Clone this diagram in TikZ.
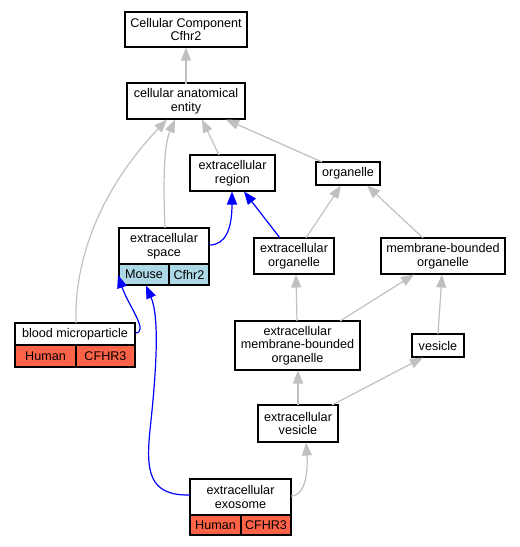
\documentclass[tikz,border=0pt]{standalone}
\usepackage{fontspec}
\setmainfont{Liberation Sans}
\usetikzlibrary{arrows.meta}
\definecolor{edgegray}{HTML}{C0C0C0}
\definecolor{mouseblue}{HTML}{ADD8E6}
\definecolor{humanred}{HTML}{FF6347}
\begin{document}
\begin{tikzpicture}[x=1pt,y=-1pt,
  box/.style={draw=black,line width=1.1pt,fill=white,align=center,inner sep=0pt,
    font=\fontsize{12.6}{13.6}\selectfont},
  gedge/.style={draw=edgegray,line width=1.2pt,-{Triangle[length=13pt,width=10pt]}},
  bedge/.style={draw=blue,line width=1.2pt,-{Triangle[length=13pt,width=10pt]}}]
\useasboundingbox (0,0) rectangle (520,547);
% nodes
\node[box,minimum width=122pt,minimum height=35pt] (cc) at (186,29.5) {Cellular Component\\Cfhr2};
\node[box,minimum width=118pt,minimum height=36pt] (cae) at (186,101) {cellular anatomical\\entity};
\node[box,minimum width=85pt,minimum height=36pt] (er) at (232.5,173) {extracellular\\region};
\node[box,minimum width=64pt,minimum height=23pt] (org) at (348,173.5) {organelle};
\node[box,minimum width=90pt,minimum height=36pt] (es) at (164,246) {extracellular\\space};
\node[box,fill=mouseblue,minimum width=50pt,minimum height=21pt] (esm) at (144,274.5) {Mouse};
\node[box,fill=mouseblue,minimum width=40pt,minimum height=21pt] (esc) at (189,274.5) {Cfhr2};
\node[box,minimum width=80pt,minimum height=36pt] (eo) at (294,256) {extracellular\\organelle};
\node[box,minimum width=124pt,minimum height=36pt] (mbo) at (443,256) {membrane-bounded\\organelle};
\node[box,minimum width=120pt,minimum height=22pt] (bm) at (75,334) {blood microparticle};
\node[box,fill=humanred,minimum width=61pt,minimum height=22pt] (bmh) at (45.5,356) {Human};
\node[box,fill=humanred,minimum width=59pt,minimum height=22pt] (bmc) at (105.5,356) {CFHR3};
\node[box,minimum width=125pt,minimum height=49pt] (embo) at (297.5,345.5) {extracellular\\membrane-bounded\\organelle};
\node[box,minimum width=52pt,minimum height=23pt] (ves) at (438,345.5) {vesicle};
\node[box,minimum width=80pt,minimum height=37pt] (ev) at (298,423.5) {extracellular\\vesicle};
\node[box,minimum width=101pt,minimum height=36pt] (ee) at (240.5,497) {extracellular\\exosome};
\node[box,fill=humanred,minimum width=51pt,minimum height=20pt] (eeh) at (215.5,525) {Human};
\node[box,fill=humanred,minimum width=50pt,minimum height=20pt] (eec) at (266,525) {CFHR3};
% anchor coordinates
\coordinate (cae-n) at (186,83.5);
\coordinate (cc-s) at (186,47.5);
\coordinate (er-n) at (219,155);
\coordinate (cae-s1) at (202,119.5);
\coordinate (org-n) at (322,162);
\coordinate (cae-s2) at (226,119.5);
\coordinate (es-n) at (165,228);
\coordinate (cae-s3) at (175,119.5);
\coordinate (bm-n) at (76,323);
\coordinate (cae-s4) at (167,119.5);
\coordinate (eo-n1) at (280,238);
\coordinate (er-s1) at (244,191.5);
\coordinate (es-e) at (209.5,245);
\coordinate (er-s2) at (232,191.5);
\coordinate (eo-n2) at (306,238);
\coordinate (org-s1) at (341,185.5);
\coordinate (mbo-n) at (423,238);
\coordinate (org-s2) at (367,185.5);
\coordinate (embo-n1) at (297,321);
\coordinate (eo-s) at (296,274.5);
\coordinate (embo-n2) at (340,321);
\coordinate (mbo-s1) at (414,274.5);
\coordinate (ves-n) at (438,334);
\coordinate (mbo-s2) at (442,274.5);
\coordinate (ev-n1) at (298,405);
\coordinate (embo-s) at (298,370.5);
\coordinate (ev-n2) at (332,405);
\coordinate (ves-s) at (423,357.5);
\coordinate (ee-e) at (291,496);
\coordinate (ev-s) at (306,442.5);
\coordinate (bm-e) at (135,333);
\coordinate (esm-w) at (118,275);
\coordinate (ee-w) at (190,495);
\coordinate (esm-s) at (146,285.5);
% edges
\draw[gedge] (cae-n) -- (cc-s);
\draw[gedge] (er-n) -- (cae-s1);
\draw[gedge] (org-n) -- (cae-s2);
\draw[gedge] (es-n) .. controls (163,180) and (164,145) .. (cae-s3);
\draw[gedge] (bm-n) .. controls (74,260) and (100,190) .. (cae-s4);
\draw[bedge] (eo-n1) -- (er-s1);
\draw[bedge] (es-e) .. controls (226,245) and (232,228) .. (er-s2);
\draw[gedge] (eo-n2) -- (org-s1);
\draw[gedge] (mbo-n) -- (org-s2);
\draw[gedge] (embo-n1) -- (eo-s);
\draw[gedge] (embo-n2) -- (mbo-s1);
\draw[gedge] (ves-n) -- (mbo-s2);
\draw[gedge] (ev-n1) -- (embo-s);
\draw[gedge] (ev-n2) -- (ves-s);
\draw[gedge] (ee-e) .. controls (306,496) and (308,470) .. (ev-s);
\draw[bedge] (bm-e) .. controls (150,333) and (128,305) .. (esm-w);
\draw[bedge] (ee-w) .. controls (148,496) and (146,470) .. (150,430) .. controls (156,375) and (160,318) .. (esm-s);
\end{tikzpicture}
\end{document}
